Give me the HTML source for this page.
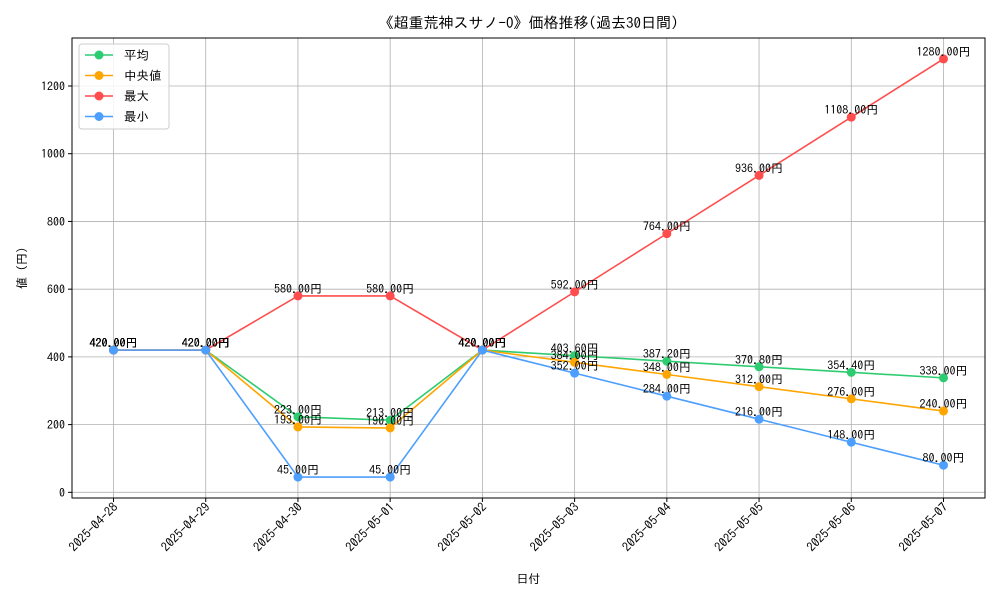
<!DOCTYPE html>
<html><head><meta charset="utf-8"><style>
body{margin:0;background:#fff;}
svg text{font-family:"IPAGothic","Noto Sans CJK JP","Liberation Sans",sans-serif;}
</style></head><body>
<svg id="chart" width="1000" height="600" xmlns="http://www.w3.org/2000/svg"></svg>
<script>
const categories=["2025-04-28","2025-04-29","2025-04-30","2025-05-01","2025-05-02","2025-05-03","2025-05-04","2025-05-05","2025-05-06","2025-05-07"];
const avgValues=[420,420,223,213,420,403.6,387.2,370.8,354.4,338];
const medianValues=[420,420,193,190,420,384,348,312,276,240];
const maxValues=[420,420,580,580,420,592,764,936,1108,1280];
const minValues=[420,420,45,45,420,352,284,216,148,80];
const yTicks=[0,200,400,600,800,1000,1200];
const seriesNames=["平均","中央値","最大","最小"];
const colors=["#2ecc71","#ffa500","#ff4d4d","#4d9fff"];
const svg=document.getElementById('chart');
const NS="http://www.w3.org/2000/svg";
const L=72,R=985,T=38,B=498;
const allV=[].concat(avgValues,medianValues,maxValues,minValues);
const vmin=Math.min(...allV),vmax=Math.max(...allV),pad=(vmax-vmin)*0.05;
const y0=vmin-pad,y1=vmax+pad;
const n=categories.length,xpad=(n-1)*0.05;
function xs(i){return L+(i+xpad)/(n-1+2*xpad)*(R-L);}
function ys(v){return B-(v-y0)/(y1-y0)*(B-T);}
function mk(tag,attrs,txt){const e=document.createElementNS(NS,tag);for(const k in attrs)e.setAttribute(k,attrs[k]);if(txt!==undefined)e.textContent=txt;svg.appendChild(e);return e;}
let e;
e=mk('text',{x:(L+R)/2,y:28,'text-anchor':'middle','font-size':15},'《超重荒神スサノ-O》価格推移(過去30日間)');


yTicks.forEach(t=>{const y=ys(t);
e=mk('line',{x1:L,x2:R,y1:y,y2:y,stroke:'#b0b0b0','stroke-width':0.8});


mk('line',{x1:L-4,x2:L,y1:y,y2:y,stroke:'#000'});
e=mk('text',{x:L-7,y:y+4.5,'text-anchor':'end','font-size':12},String(t));

});
categories.forEach((c,i)=>{const x=xs(i);
e=mk('line',{x1:x,x2:x,y1:T,y2:B,stroke:'#b0b0b0','stroke-width':0.8});


mk('line',{x1:x,x2:x,y1:B,y2:B+4,stroke:'#000'});
e=mk('text',{x:x+5,y:B+10,'text-anchor':'end','font-size':12.5,transform:`rotate(-45 ${x+5} ${B+10})`},c);

});
e=mk('rect',{x:L,y:T,width:R-L,height:B-T,fill:'none',stroke:'#000','stroke-width':1});


e=mk('text',{x:(L+R)/2,y:583,'text-anchor':'middle','font-size':12},'日付');


e=mk('text',{x:26,y:(T+B)/2,'text-anchor':'middle','font-size':12,transform:`rotate(-90 26 ${(T+B)/2})`},'値 (円)');


const series=[avgValues,medianValues,maxValues,minValues];
series.forEach((vals,s)=>{
 const pts=vals.map((v,i)=>xs(i)+','+ys(v)).join(' ');
 e=mk('polyline',{points:pts,fill:'none',stroke:colors[s],'stroke-width':1.6});
 
 
 vals.forEach((v,i)=>{
  e=mk('circle',{cx:xs(i),cy:ys(v),r:4.5,fill:colors[s]});
  
  
 });
});
series.forEach((vals)=>{vals.forEach((v,i)=>{
 e=mk('text',{x:xs(i),y:ys(v)-3,'text-anchor':'middle','font-size':12},v.toFixed(2)+'円');
 
 
});});
e=mk('rect',{x:79,y:44,width:90,height:85,rx:3,fill:'#fff','fill-opacity':0.85,stroke:'#ccc'});


seriesNames.forEach((nm,s)=>{const y=55+s*20.5;
 e=mk('line',{x1:85,x2:113,y1:y,y2:y,stroke:colors[s],'stroke-width':1.6});
 
 
 mk('circle',{cx:99,cy:y,r:4.5,fill:colors[s]});
 e=mk('text',{x:124,y:y+4.5,'font-size':12.5},nm);
 
 
});
</script>
</body></html>
